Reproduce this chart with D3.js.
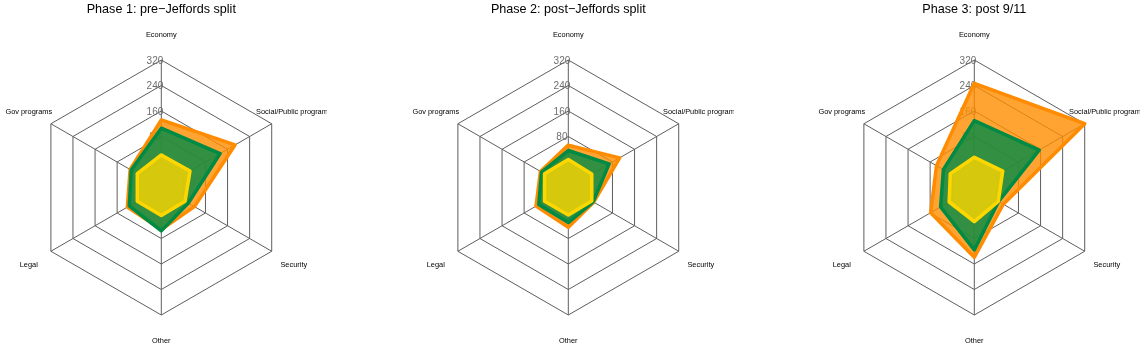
<!DOCTYPE html>
<html>
<head>
<meta charset="utf-8">
<script src="https://cdn.jsdelivr.net/npm/d3@7"></script>
<style>
  body { margin: 0; background: #fff; }
  svg { display: block; font-family: "Liberation Sans", Arial, sans-serif; will-change: transform; }
</style>
</head>
<body>
<script>
// radar charts, one per phase
const categories = ['Economy', 'Gov programs', 'Legal', 'Other', 'Security', 'Social/Public programs'];
const phaseTitles = ['Phase 1: pre\u2212Jeffords split', 'Phase 2: post\u2212Jeffords split', 'Phase 3: post 9/11'];
const tickValues = [0, 80, 160, 240, 320];

// one row per phase, values in category order
const orangeValues = [
  [132, 33, 43, 52, 40, 187],
  [53, 21, 37, 45, 12, 106],
  [247, 57, 78, 139, 25, 320]
];
const greenValues = [
  [106, 29, 36, 56, 18, 133],
  [36, 17, 27, 30, 10, 68],
  [130, 32, 42, 116, 8, 155]
];
const yellowValues = [
  [22, 7, 7, 8, 6, 24],
  [8, 6, 6, 6, 5, 5],
  [15, 7, 11, 27, 7, 23]
];

const w = 1142;
const h = 347;
const centersX = [161.3, 568.3, 974.3];
const centerY = 187.5;
const R = 127.5;
const clipHalf = 165.4;

const seriesStyle = [
  { values: orangeValues, color: 'rgb(255,140,0)', fill: 'rgba(255,140,0,0.8)' },
  { values: greenValues, color: 'rgb(0,139,69)', fill: 'rgba(0,139,69,0.8)' },
  { values: yellowValues, color: 'rgb(255,215,0)', fill: 'rgba(255,215,0,0.8)' }
];

const rScale = d3.scaleLinear().domain([0, 320]).range([R / 5, R]);
const angle = (i) => -i * 2 * Math.PI / categories.length;

const svg = d3.select('body')
  .append('svg')
  .attr('width', w)
  .attr('height', h);

const defs = svg.append('defs');

phaseTitles.forEach((title, p) => {
  const cx = centersX[p];

  defs.append('clipPath')
    .attr('id', 'clip' + p)
    .append('rect')
    .attr('x', cx - clipHalf)
    .attr('y', 0)
    .attr('width', clipHalf * 2)
    .attr('height', h);

  const panel = svg.append('g')
    .attr('clip-path', 'url(#clip' + p + ')')
    .append('g')
    .attr('transform', 'translate(' + cx + ',' + centerY + ')');

  svg.append('text')
    .attr('x', cx)
    .attr('y', 13)
    .attr('text-anchor', 'middle')
    .style('font-size', '12.6px')
    .style('fill', '#000')
    .text(title);

  // grid rings
  const ring = d3.lineRadial()
    .angle((d, i) => angle(i))
    .curve(d3.curveLinearClosed);

  panel.selectAll('.ring')
    .data(tickValues)
    .enter()
    .append('path')
    .attr('class', 'ring')
    .attr('d', (t) => ring.radius(rScale(t))(categories))
    .attr('fill', 'none')
    .attr('stroke', '#5e5e5e')
    .attr('stroke-width', 1);

  // spokes
  panel.selectAll('.spoke')
    .data(categories)
    .enter()
    .append('line')
    .attr('class', 'spoke')
    .attr('x1', (d, i) => rScale(0) * Math.sin(angle(i)))
    .attr('y1', (d, i) => -rScale(0) * Math.cos(angle(i)))
    .attr('x2', (d, i) => rScale(320) * Math.sin(angle(i)))
    .attr('y2', (d, i) => -rScale(320) * Math.cos(angle(i)))
    .attr('stroke', '#5e5e5e')
    .attr('stroke-width', 1);

  // ring value labels
  panel.selectAll('.tick')
    .data(tickValues)
    .enter()
    .append('text')
    .attr('class', 'tick')
    .attr('x', -0.05 * R)
    .attr('y', (t) => -rScale(t))
    .attr('dy', '0.35em')
    .attr('text-anchor', 'middle')
    .style('font-size', '10px')
    .style('fill', '#6e6e6e')
    .text((t) => t);

  // category labels
  panel.selectAll('.cat')
    .data(categories)
    .enter()
    .append('text')
    .attr('class', 'cat')
    .attr('x', (d, i) => 1.2 * R * Math.sin(angle(i)))
    .attr('y', (d, i) => -1.2 * R * Math.cos(angle(i)))
    .attr('dy', '0.35em')
    .attr('text-anchor', 'middle')
    .style('font-size', '7.4px')
    .style('fill', '#000')
    .text((d) => d);

  // data polygons
  seriesStyle.forEach((s) => {
    const line = d3.lineRadial()
      .angle((d, i) => angle(i))
      .radius((d) => rScale(d))
      .curve(d3.curveLinearClosed);

    panel.append('path')
      .attr('d', line(s.values[p]))
      .attr('fill', s.fill)
      .attr('stroke', s.color)
      .attr('stroke-width', 3.5)
      .attr('stroke-linejoin', 'round');
  });
});
</script>
</body>
</html>
